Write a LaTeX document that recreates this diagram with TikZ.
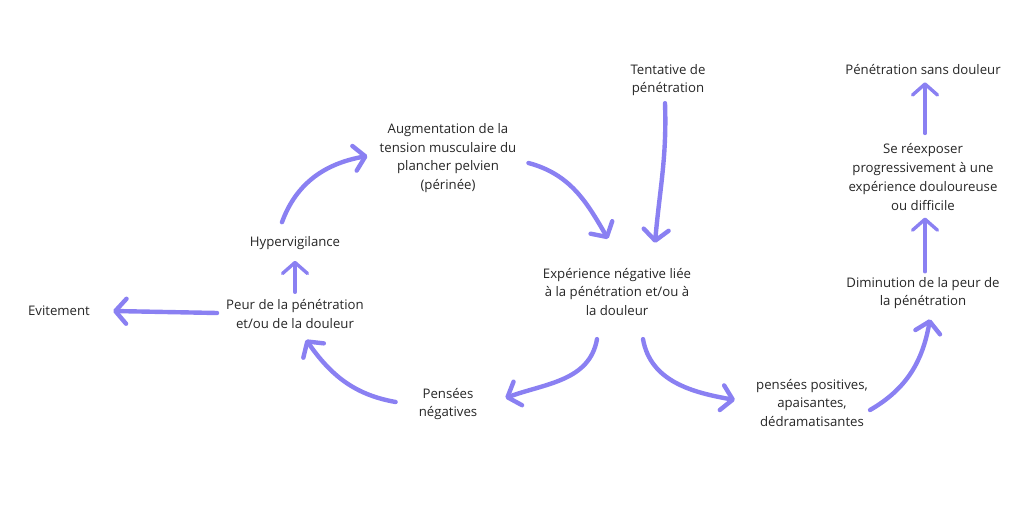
\documentclass[tikz,border=0pt]{standalone}
\usepackage{fontspec}
\setmainfont{Open Sans}
\usetikzlibrary{arrows.meta,calc}
\definecolor{lilac}{RGB}{138,128,242}

\begin{document}
\begin{tikzpicture}[x=1bp, y=1bp,
    label/.style={align=center, inner sep=0pt, text=black!85, font=\fontsize{13.2bp}{18.8bp}\selectfont},
    brush/.style={lilac, line width=4.4bp, line cap=round,
        -{Straight Barb[length=11bp, width=25bp, round]}},
    thin brush/.style={brush, line width=3.4bp}]
\useasboundingbox (0,0) rectangle (1024,-512);

\node[label] (tent) at (668,-80) {Tentative de\\pénétration};
\node[label] (psd) at (923,-70) {Pénétration sans douleur};
\node[label] (aug) at (448,-158) {Augmentation de la\\tension musculaire du\\plancher pelvien\\(périnée)};
\node[label] (sre) at (923,-177) {Se réexposer\\progressivement à une\\expérience douloureuse\\ou difficile};
\node[label] (hyper) at (295,-243) {Hypervigilance};
\node[label] (exp) at (617,-292) {Expérience négative liée\\à la pénétration et/ou à\\la douleur};
\node[label] (dim) at (923,-293) {Diminution de la peur de\\la pénétration};
\node[label] (evit) at (59,-311) {Evitement};
\node[label] (peur) at (295,-314) {Peur de la pénétration\\et/ou de la douleur};
\node[label] (pneg) at (448,-404) {Pensées\\négatives};
\node[label] (ppos) at (812,-403) {pensées positives,\\apaisantes,\\dédramatisantes};

% vicious circle
\draw[brush] ($(hyper.north)+(-13,14)$) to[out=70, in=190] ($(aug.west)+(-12,2)$);
\draw[brush] ($(aug.east)+(12,-5)$) to[out=-15, in=120] ($(exp.north)+(-9,29)$);
\draw[brush] ($(tent.south)+(-3,-7)$) to[out=-88, in=85] ($(exp.north)+(38,25)$);
\draw[brush] ($(exp.south)+(-20,-23)$) to[out=-100, in=20] ($(pneg.east)+(28,6)$);
\draw[brush] ($(pneg.west)+(-23,2)$) to[out=170, in=-55] ($(peur.south)+(11,-11)$);
\draw[thin brush] ($(peur.north)+(0,7)$) -- ($(hyper.south)+(0,-11)$);
\draw[brush] ($(peur.west)+(-9,1)$) -- ($(evit.east)+(23,0)$);

% way out
\draw[brush] ($(exp.south)+(26,-23)$) to[out=-80, in=170] ($(ppos.west)+(-21,3)$);
\draw[brush] ($(ppos.east)+(2,-7)$) to[out=30, in=-100] ($(dim.south)+(7,-10)$);
\draw[thin brush] ($(dim.north)+(2,5)$) -- ($(sre.south)+(2,-7)$);
\draw[thin brush] ($(sre.north)+(2,10)$) -- ($(psd.south)+(2,-7)$);
\end{tikzpicture}
\end{document}
